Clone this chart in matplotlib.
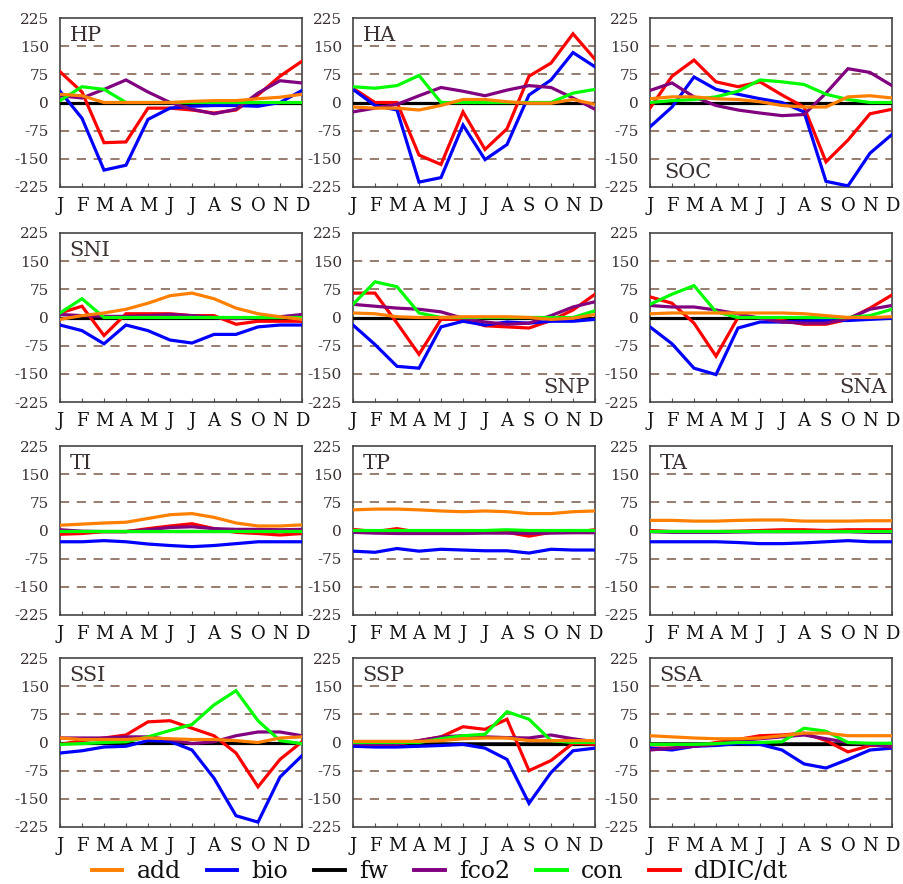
import matplotlib
matplotlib.use("Agg")
import matplotlib.pyplot as plt
from matplotlib.lines import Line2D

plt.rcParams['font.family'] = ['DejaVu Serif']

months = ['J', 'F', 'M', 'A', 'M', 'J', 'J', 'A', 'S', 'O', 'N', 'D']
series = ['add', 'bio', 'fw', 'fco2', 'con', 'dDIC/dt']
colors = {'add': '#ff8000', 'bio': '#0000ff', 'fw': '#000000',
          'fco2': '#800080', 'con': '#00ff00', 'dDIC/dt': '#ff0000'}

# monthly values per region
HP = {
    'add':     [22, 18, 0, 0, 0, 0, 3, 5, 5, 10, 14, 22],
    'bio':     [30, -42, -180, -167, -45, -15, -10, -8, -8, -10, 0, 32],
    'fw':      [0, 0, 0, 0, 0, 0, 0, 0, 0, 0, 0, 0],
    'fco2':    [18, 12, 35, 60, 28, 0, -18, -30, -18, 25, 58, 52],
    'con':     [5, 42, 35, 0, 0, 0, 0, 0, 0, 0, 0, 0],
    'dDIC/dt': [82, 28, -107, -105, -15, -15, -20, -28, -20, 20, 70, 110],
}
HA = {
    'add':     [-12, -15, -15, -20, -8, 8, 8, 2, -2, -2, 8, -5],
    'bio':     [35, -8, -20, -212, -200, -60, -152, -112, 20, 60, 133, 95],
    'fw':      [0, 0, 0, 0, 0, 0, 0, 0, 0, 0, 0, 0],
    'fco2':    [-25, -15, -5, 18, 40, 30, 18, 33, 45, 40, 12, -18],
    'con':     [42, 38, 45, 72, 0, 0, 0, 0, 0, 0, 25, 35],
    'dDIC/dt': [38, 0, 0, -140, -165, -25, -125, -70, 70, 105, 183, 115],
}
SOC = {
    'add':     [10, 15, 15, 10, 8, 2, -8, -12, -12, 15, 18, 12],
    'bio':     [-65, -12, 68, 35, 22, 10, 0, -25, -210, -222, -135, -85],
    'fw':      [0, 0, 0, 0, 0, 0, 0, 0, 0, 0, 0, 0],
    'fco2':    [32, 52, 15, -8, -20, -28, -35, -32, 25, 90, 80, 45],
    'con':     [0, 5, 8, 15, 30, 60, 55, 48, 22, 8, 0, 0],
    'dDIC/dt': [-15, 70, 113, 55, 42, 55, 20, -12, -158, -100, -30, -18],
}
SNI = {
    'add':     [-5, 5, 12, 22, 38, 58, 65, 50, 25, 10, 2, -5],
    'bio':     [-20, -35, -70, -20, -35, -60, -68, -45, -45, -25, -20, -20],
    'fw':      [0, 0, 0, 0, 0, 0, 0, 0, 0, 0, 0, 0],
    'fco2':    [8, 5, 3, 3, 5, 8, 5, 0, -3, 0, 2, 8],
    'con':     [12, 50, 0, 0, 0, 0, 0, 0, 0, 0, 0, 0],
    'dDIC/dt': [12, 30, -48, 10, 10, 10, 5, 5, -18, -10, -10, -10],
}
SNP = {
    'add':     [12, 10, 2, 0, 0, 2, 2, 2, 0, -5, -2, 8],
    'bio':     [-20, -72, -130, -135, -25, -10, -20, -12, -15, -10, -10, -5],
    'fw':      [0, 0, 0, 0, 0, 0, 0, 0, 0, 0, 0, 0],
    'fco2':    [35, 30, 25, 22, 15, -2, -12, -18, -15, 5, 28, 42],
    'con':     [35, 95, 82, 12, 0, 0, 0, 0, 0, 0, 0, 18],
    'dDIC/dt': [65, 65, -15, -98, -5, -5, -22, -25, -28, -8, 20, 62],
}
SNA = {
    'add':     [10, 12, 12, 12, 12, 12, 12, 10, 5, 0, 0, 2],
    'bio':     [-25, -70, -135, -152, -28, -12, -12, -10, -8, -8, -5, -2],
    'fw':      [0, 0, 0, 0, 0, 0, 0, 0, 0, 0, 0, 0],
    'fco2':    [32, 28, 28, 20, 10, -2, -12, -15, -15, -3, 22, 32],
    'con':     [35, 62, 85, 15, 0, 0, 0, 0, 0, 0, 5, 22],
    'dDIC/dt': [55, 38, -15, -103, 0, 0, -8, -18, -18, -5, 25, 60],
}
TI = {
    'add':     [14, 17, 20, 22, 32, 42, 45, 35, 20, 12, 12, 15],
    'bio':     [-30, -30, -27, -30, -36, -40, -43, -40, -35, -30, -30, -30],
    'fw':      [-2, -2, -2, -2, -2, -2, -2, -2, -2, -2, -2, -2],
    'fco2':    [2, -2, -3, -3, 2, 8, 10, 5, 3, 3, 2, 3],
    'con':     [0, 0, 0, 0, 0, 0, 0, 0, 0, 0, 0, 0],
    'dDIC/dt': [-10, -8, -3, -3, 5, 12, 18, 5, -5, -8, -12, -8],
}
TP = {
    'add':     [55, 57, 57, 55, 52, 50, 52, 50, 45, 45, 50, 52],
    'bio':     [-55, -58, -48, -55, -50, -52, -54, -54, -60, -50, -52, -52],
    'fw':      [-2, -2, -2, -2, -2, -2, -2, -2, -2, -2, -2, -2],
    'fco2':    [-5, -7, -8, -8, -8, -8, -7, -7, -8, -7, -6, -6],
    'con':     [0, 0, 0, 0, 0, 0, 0, 2, 0, 0, 0, 0],
    'dDIC/dt': [3, -3, 5, -5, -5, -5, -5, -5, -15, -5, -5, 2],
}
TA = {
    'add':     [27, 27, 25, 25, 27, 28, 28, 25, 25, 25, 26, 26],
    'bio':     [-30, -30, -30, -30, -32, -35, -35, -33, -30, -27, -30, -30],
    'fw':      [-1, -1, -1, -1, -1, -1, -1, -1, -1, -1, -1, -1],
    'fco2':    [-3, -5, -5, -5, -4, -3, -3, -3, -3, -3, -5, -5],
    'con':     [0, 0, 0, 0, 0, 0, 0, 0, 0, 0, 0, 0],
    'dDIC/dt': [0, -3, -3, -3, -2, 0, 2, 2, 0, 2, 2, 2],
}
SSI = {
    'add':     [12, 8, 8, 8, 12, 10, 8, 8, 5, 0, 12, 15],
    'bio':     [-28, -22, -12, -10, 5, 3, -20, -95, -195, -212, -92, -35],
    'fw':      [-1, -1, -1, -1, -1, -1, -1, -1, -1, -1, -1, -1],
    'fco2':    [12, 12, 12, 15, 15, 8, -3, 2, 18, 28, 28, 18],
    'con':     [-5, -3, 0, 2, 15, 32, 48, 100, 138, 58, 5, -3],
    'dDIC/dt': [-5, 5, 12, 20, 55, 58, 38, 18, -28, -118, -45, 2],
}
SSP = {
    'add':     [3, 3, 3, 3, 5, 10, 12, 12, 5, 5, 5, 5],
    'bio':     [-10, -12, -12, -10, -8, -5, -15, -45, -162, -80, -22, -15],
    'fw':      [-3, -3, -3, -3, -3, -3, -3, -3, -3, -3, -3, -3],
    'fco2':    [-3, -5, -3, 5, 15, 18, 15, 13, 12, 20, 10, 2],
    'con':     [0, 0, 0, 0, 10, 18, 22, 82, 62, 5, 0, 0],
    'dDIC/dt': [-5, -5, -5, 5, 15, 42, 35, 62, -75, -48, -2, -5],
}
SSA = {
    'add':     [18, 15, 12, 10, 10, 12, 18, 25, 25, 18, 18, 18],
    'bio':     [-15, -20, -10, -8, -3, -5, -20, -57, -68, -45, -20, -15],
    'fw':      [-5, -5, -5, -5, -5, -5, -5, -5, -5, -5, -5, -5],
    'fco2':    [-20, -15, -10, -5, 5, 10, 15, 20, 10, 0, -5, -12],
    'con':     [-5, -5, -5, -3, 0, 0, 2, 38, 30, 0, -2, -2],
    'dDIC/dt': [-15, -15, -10, 0, 8, 18, 20, 25, 5, -25, -8, -8],
}

panels = [
    ('HP', HP, 'tl'), ('HA', HA, 'tl'), ('SOC', SOC, 'bl'),
    ('SNI', SNI, 'tl'), ('SNP', SNP, 'br'), ('SNA', SNA, 'br'),
    ('TI', TI, 'tl'), ('TP', TP, 'tl'), ('TA', TA, 'tl'),
    ('SSI', SSI, 'tl'), ('SSP', SSP, 'tl'), ('SSA', SSA, 'tl'),
]
draw_order = ['fw', 'dDIC/dt', 'bio', 'fco2', 'con', 'add']

W, H = 904, 884
fig = plt.figure(figsize=(W / 100, H / 100), dpi=100)

col_left = [60, 353, 650]
row_top = [18, 233, 446, 658]
pw, ph = 242, 169
txt = '#3a3030'

for k, (name, d, pos) in enumerate(panels):
    r, c = divmod(k, 3)
    x0 = col_left[c] / W
    y0 = 1 - (row_top[r] + ph) / H
    ax = fig.add_axes([x0, y0, pw / W, ph / H])
    x = list(range(12))
    for lv in (150, 75, -75, -150):
        ax.axhline(lv, color='#7a5848', lw=1.1, ls=(0, (6, 5)), zorder=1)
    ax.axhline(0, color='#333333', lw=1.3, zorder=1)
    for s in draw_order:
        ax.plot(x, d[s], color=colors[s], lw=2.3, zorder=3,
                solid_joinstyle='miter')
    ax.set_xlim(0, 11)
    ax.set_ylim(-225, 225)
    ax.set_yticks([225, 150, 75, 0, -75, -150, -225])
    ax.set_yticklabels(['225', '150', '75', '0', '-75', '-150', '-225'])
    ax.set_xticks(x)
    ax.set_xticklabels(months)
    ax.tick_params(axis='y', length=0, pad=8, labelsize=11, labelcolor=txt)
    ax.tick_params(axis='x', direction='in', length=3, pad=7, labelsize=13,
                   labelcolor='#111111', color='#555555')
    for sp in ax.spines.values():
        sp.set_color('#444444')
        sp.set_linewidth(1.2)
    if pos == 'tl':
        ax.text(0.04, 0.95, name, transform=ax.transAxes, ha='left', va='top',
                fontsize=15, color=txt)
    elif pos == 'bl':
        ax.text(0.06, 0.03, name, transform=ax.transAxes, ha='left', va='bottom',
                fontsize=15, color=txt)
    else:
        ax.text(0.98, 0.03, name, transform=ax.transAxes, ha='right', va='bottom',
                fontsize=15, color=txt)

handles = [Line2D([], [], color=colors[s], lw=2.8) for s in series]
fig.legend(handles, series, loc='center', bbox_to_anchor=(440 / W, 1 - 872 / H),
           ncol=6, frameon=False, fontsize=17, handlelength=1.3,
           handletextpad=0.6, columnspacing=1.1, labelcolor='#111111')

fig.savefig('out.png', dpi=100)
